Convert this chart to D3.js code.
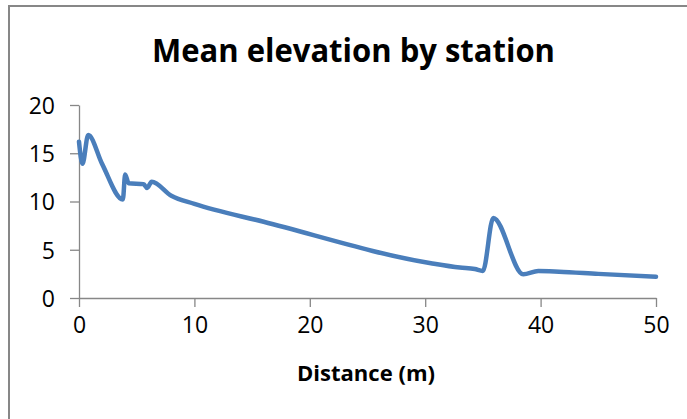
<!DOCTYPE html>
<html>
<head>
<meta charset="utf-8">
<script src="https://cdn.jsdelivr.net/npm/d3@7"></script>
<style>
  body { margin: 0; background: #fff; }
  text { font-family: "Open Sans", sans-serif; fill: #000; }
</style>
</head>
<body>
<div class="chart"></div>
<script>
let FRAME_WIDTH = 687;
let FRAME_HEIGHT = 419;
let PLOT = {left: 79, right: 656, top: 105, bottom: 298};

// station readings (distance in m, mean elevation)
let distance = [0, 0.3, 0.8, 2.0, 3.8, 4.0, 4.3, 5.6, 5.9, 6.3, 8.0, 10, 16, 30.5, 33.0, 34.3, 35.0, 35.9, 38.5, 39.8, 41.6, 45, 50];
let elevation = [16.2, 13.9, 16.9, 13.9, 10.2, 12.8, 11.9, 11.8, 11.4, 12.05, 10.6, 9.75, 7.9, 3.6, 3.15, 3.0, 2.8, 8.3, 2.45, 2.8, 2.73, 2.5, 2.2];

let xTicks = [0, 10, 20, 30, 40, 50];
let yTicks = [0, 5, 10, 15, 20];

let FRAME = d3.select('.chart')
              .append("svg")
              .attr("width", FRAME_WIDTH)
              .attr("height", FRAME_HEIGHT);

// chart area border (right and bottom run off the page)
FRAME.append("path")
     .attr("d", "M9,430 V6 H700")
     .attr("fill", "none")
     .attr("stroke", "#878787")
     .attr("stroke-width", 2);

const X_SCALE = d3.scaleLinear().domain([0, 50]).range([PLOT.left, PLOT.right]);
const Y_SCALE = d3.scaleLinear().domain([0, 20]).range([PLOT.bottom, PLOT.top]);

// axes
let xAxis = FRAME.append("g")
     .attr("transform", "translate(0," + PLOT.bottom + ")")
     .call(d3.axisBottom(X_SCALE).tickValues(xTicks).tickSize(9).tickPadding(10).tickSizeOuter(0));

let yAxis = FRAME.append("g")
     .attr("transform", "translate(" + PLOT.left + ",0)")
     .call(d3.axisLeft(Y_SCALE).tickValues(yTicks).tickSize(9).tickPadding(15).tickSizeOuter(0));

[xAxis, yAxis].forEach((g) => {
  g.attr("font-family", "Open Sans").attr("font-size", 23);
  g.selectAll("path, line").attr("stroke", "#878787").attr("stroke-width", 1.3);
  g.selectAll("text").attr("fill", "#000");
});
yAxis.selectAll("text").attr("dy", "0.36em");

// elevation line
let line = d3.line()
             .x((d, i) => X_SCALE(distance[i]))
             .y((d) => Y_SCALE(d))
             .curve(d3.curveMonotoneX);

FRAME.append("path")
     .datum(elevation)
     .attr("d", line)
     .attr("fill", "none")
     .attr("stroke", "#4a7ebb")
     .attr("stroke-width", 4.5)
     .attr("stroke-linecap", "round")
     .attr("stroke-linejoin", "round");

// title and axis label
FRAME.append("text")
     .attr("x", 353.5)
     .attr("y", 62)
     .attr("text-anchor", "middle")
     .attr("font-size", 33)
     .attr("font-weight", "bold")
     .attr("textLength", 403)
     .attr("lengthAdjust", "spacingAndGlyphs")
     .text("Mean elevation by station");

FRAME.append("text")
     .attr("x", 366)
     .attr("y", 381)
     .attr("text-anchor", "middle")
     .attr("font-size", 22)
     .attr("font-weight", "bold")
     .attr("textLength", 138)
     .attr("lengthAdjust", "spacingAndGlyphs")
     .text("Distance (m)");
</script>
</body>
</html>
